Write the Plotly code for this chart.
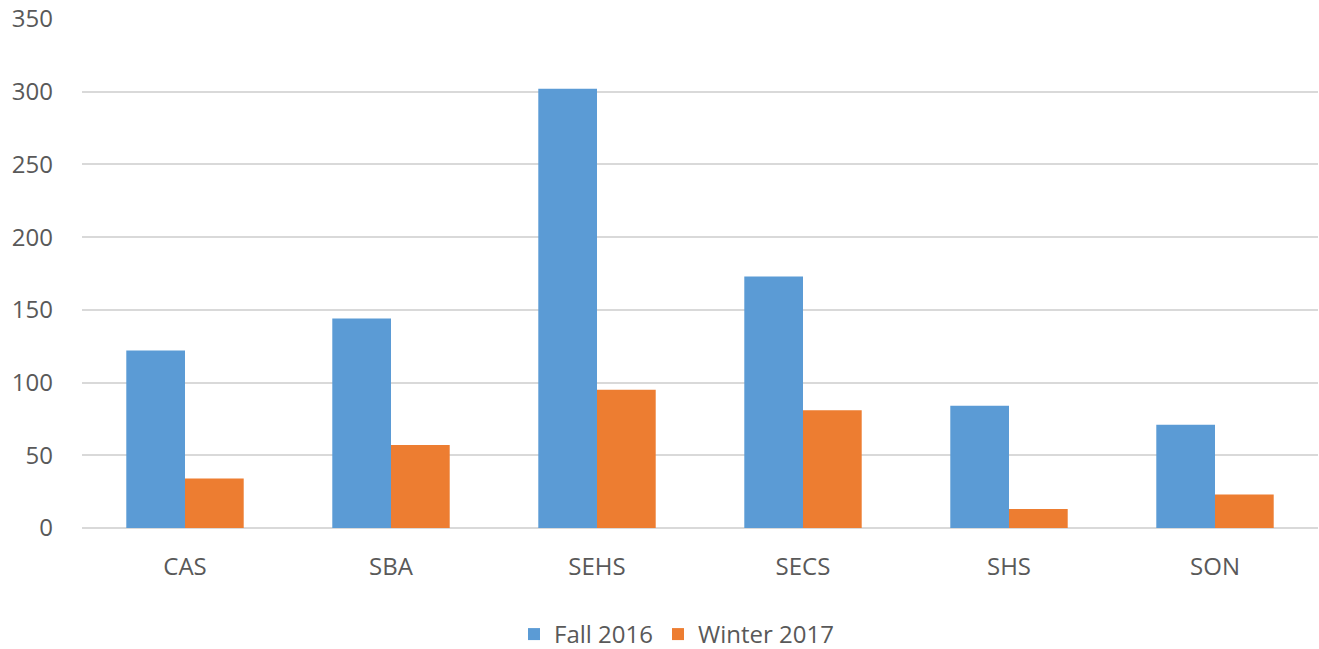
import plotly.graph_objects as go

categories = ["CAS", "SBA", "SEHS", "SECS", "SHS", "SON"]
fall_2016 = [122, 144, 302, 173, 84, 71]
winter_2017 = [34, 57, 95, 81, 13, 23]
y_ticks = [0, 50, 100, 150, 200, 250, 300, 350]

font = dict(family="Open Sans, Liberation Sans, sans-serif", size=24, color="#595959")

fig = go.Figure()
fig.add_trace(go.Bar(name="Fall 2016", x=categories, y=fall_2016, marker=dict(color="#5B9BD5", line=dict(width=0))))
fig.add_trace(go.Bar(name="Winter 2017", x=categories, y=winter_2017, marker=dict(color="#ED7D31", line=dict(width=0))))

fig.update_layout(
    width=1319, height=649,
    barmode="group", bargap=0.43, bargroupgap=0,
    paper_bgcolor="white", plot_bgcolor="white",
    margin=dict(l=82, r=1, t=19, b=121, autoexpand=False),
    font=font,
    showlegend=True,
    legend=dict(orientation="h", x=0.481, xanchor="center", y=-0.165, yanchor="top",
                font=dict(family=font["family"], size=24, color="#595959"),
                itemwidth=30, traceorder="normal"),
    xaxis=dict(showgrid=False, showline=False, ticks="", tickfont=font, ticklabelstandoff=22,
               automargin=False),
    yaxis=dict(range=[0, 350], tickvals=y_ticks, showgrid=True, gridcolor="#D9D9D9", gridwidth=2,
               zeroline=True, zerolinecolor="#D9D9D9", zerolinewidth=2,
               showline=False, ticks="", tickfont=font, ticklabelstandoff=28, automargin=False),
)

fig.write_html("out.html", config={"displayModeBar": False},
               post_script="document.body.style.margin='0';")
